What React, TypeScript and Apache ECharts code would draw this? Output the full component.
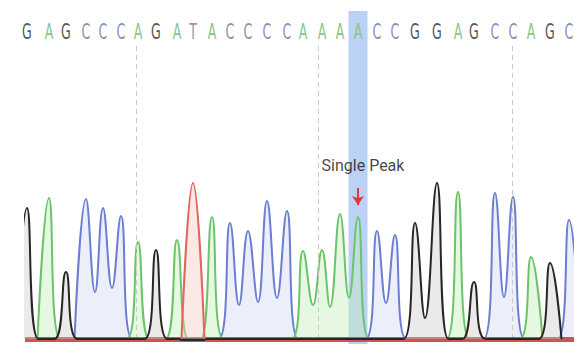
import React, { useEffect, useRef } from "react";
import * as echarts from "echarts";

// Base calls, in read order
const bases = ["G","A","G","C","C","C","A","G","A","T","A","C","C","C","C","A","A","A","A","C","C","G","G","A","G","C","C","A","G","C"];
// Peak positions (scan position) and peak heights (signal)
const peakPos = [27,49,66,86,103,121,138,156,177,193,212,230,248,267,287,303,322,340,358,377,395,415,437,458,474,495,513,531,550,569];
const peakHeight = [131,141,67,140,131,123,97,89,99,156,122,116,108,138,128,88,89,125,122,108,104,116,156,147,57,146,142,82,76,119];
// Valleys between two neighbouring peaks of the same base (in read order)
const valleyPos = [95,112,239,258,277,313,330,349,386,425,504];
const valleyHeight = [47,51,34,37,41,34,32,41,36,21,42];
// Highlighted base and reference grid positions
const highlightIndex = 18;
const gridLinePos = [136, 318, 512];
const annotation = "Single Peak";

const HALF = 11.5;
const LETTER_Y = 307;

const lineColors: Record<string, string> = { G: "#262626", A: "#6cc46a", C: "#6a7ed2", T: "#e0665e" };
const fillColors: Record<string, string> = { G: "rgba(200,200,200,0.55)", A: "rgba(196,236,186,0.6)", C: "rgba(214,218,244,0.65)", T: "rgba(248,200,192,0.6)" };
const letterColors: Record<string, string> = { G: "#55575a", A: "#86c788", C: "#8a91b0", T: "#9e9599" };

function buildValleyMap() {
  const m: Record<number, number[]> = {};
  let k = 0;
  for (let i = 0; i < bases.length - 1; i++) {
    if (bases[i] === bases[i + 1]) {
      m[i] = [valleyPos[k], valleyHeight[k]];
      k++;
    }
  }
  return m;
}

function buildTrace(ch: string, vmap: Record<number, number[]>) {
  const pts: number[][] = [];
  for (let i = 0; i < bases.length; i++) {
    if (bases[i] !== ch) continue;
    if (i === 0 || bases[i - 1] !== ch) pts.push([peakPos[i] - HALF, 0]);
    pts.push([peakPos[i], peakHeight[i]]);
    if (vmap[i]) pts.push(vmap[i]);
    else pts.push([peakPos[i] + HALF, 0]);
  }
  return pts;
}

export default function App() {
  const ref = useRef<HTMLDivElement>(null);
  useEffect(() => {
    if (!ref.current) return;
    const chart = echarts.init(ref.current, null, { renderer: "svg" });
    const vmap = buildValleyMap();
    const hx = peakPos[highlightIndex];
    const traceSeries = ["C", "A", "G", "T"].map((ch, k) => ({
      type: "line",
      name: ch,
      data: buildTrace(ch, vmap),
      showSymbol: false,
      smooth: 0.45,
      silent: true,
      z: 3 + k,
      lineStyle: { color: lineColors[ch], width: 2 },
      areaStyle: { color: fillColors[ch] },
    }));
    chart.setOption({
      animation: false,
      backgroundColor: "#ffffff",
      grid: { left: 25, right: 0, top: 0, bottom: 0 },
      xAxis: { type: "value", min: 25, max: 574, show: false },
      yAxis: { type: "value", min: -5, max: 339, show: false },
      series: [
        {
          type: "line",
          data: [],
          z: 1,
          silent: true,
          markArea: {
            silent: true,
            itemStyle: { color: "rgba(125,168,235,0.52)" },
            data: [[{ xAxis: hx - 9.5, yAxis: -5 }, { xAxis: hx + 9.5, yAxis: 328 }]],
          },
          markLine: {
            silent: true,
            symbol: "none",
            label: { show: false },
            lineStyle: { color: "#c9c9c9", type: [5, 4], width: 1 },
            data: gridLinePos.map((x) => [{ coord: [x, 0] }, { coord: [x, 295] }]),
          },
        },
        ...traceSeries,
        {
          type: "custom",
          z: 8,
          silent: true,
          data: bases.map((b, i) => [peakPos[i], i]),
          renderItem: (params: any, api: any) => {
            const p = api.coord([api.value(0), LETTER_Y]);
            const b = bases[api.value(1)];
            return {
              type: "text",
              x: p[0],
              y: p[1],
              scaleX: 0.6,
              style: {
                text: b,
                fill: letterColors[b],
                fontSize: 21,
                fontFamily: "DejaVu Sans",
                align: "center",
                verticalAlign: "middle",
              },
            };
          },
        },
        {
          type: "line",
          data: [],
          z: 10,
          silent: true,
          markLine: {
            silent: true,
            label: { show: false },
            data: [
              [
                { coord: [25, 0], symbol: "none", lineStyle: { color: "#c9564f", width: 5, type: "solid" } },
                { coord: [574, 0], symbol: "none" },
              ],
              [
                { coord: [180, 0], symbol: "none", lineStyle: { color: "#2b2b2b", width: 3, type: "solid" } },
                { coord: [205, 0], symbol: "none" },
              ],
              [
                { coord: [hx, 151], symbol: "none", lineStyle: { color: "#e0393b", width: 2, type: "solid" } },
                { coord: [hx, 134], symbol: "arrow", symbolSize: [9, 9] },
              ],
            ],
          },
        },
        {
          type: "scatter",
          data: [[hx + 5, 174]],
          symbolSize: 0,
          silent: true,
          z: 11,
          label: {
            show: true,
            formatter: annotation,
            position: "inside",
            color: "#141414",
            fontSize: 16,
            fontFamily: "Roboto",
          },
        },
      ],
    });
    return () => chart.dispose();
  }, []);
  return (
    <div
      ref={ref}
      style={{ position: "fixed", left: 0, top: 0, width: 574, height: 344, background: "#fff" }}
    />
  );
}
